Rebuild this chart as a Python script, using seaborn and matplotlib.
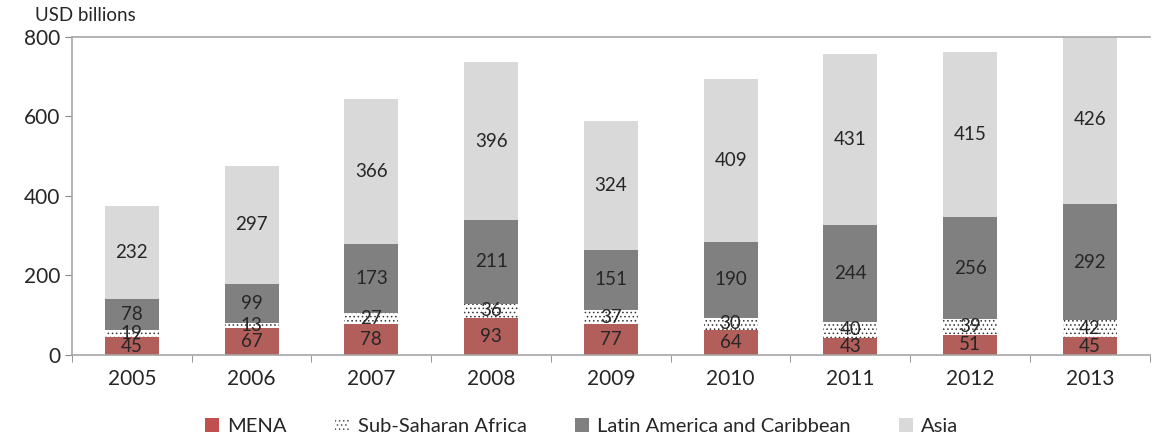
import numpy as np
import pandas as pd
import matplotlib
matplotlib.use("Agg")
import matplotlib.pyplot as plt
import seaborn as sns
from matplotlib.patches import Patch

years = ["2005", "2006", "2007", "2008", "2009", "2010", "2011", "2012", "2013"]
mena = [45, 67, 78, 93, 77, 64, 43, 51, 45]
ssa = [19, 13, 27, 36, 37, 30, 40, 39, 42]
lac = [78, 99, 173, 211, 151, 190, 244, 256, 292]
asia = [232, 297, 366, 396, 324, 409, 431, 415, 426]

series = ["MENA", "Sub-Saharan Africa", "Latin America and Caribbean", "Asia"]
colors = ["#C0504D", "white", "#808080", "#D9D9D9"]

sns.set_style("white")
plt.rcParams["font.family"] = ["Lato", "DejaVu Sans"]
plt.rcParams["hatch.linewidth"] = 0.6

df = pd.DataFrame({"year": years, "MENA": mena, "Sub-Saharan Africa": ssa,
                   "Latin America and Caribbean": lac, "Asia": asia})
cum = df[series].cumsum(axis=1)
cum["year"] = years

fig, ax = plt.subplots(figsize=(11.52, 4.34), dpi=100)
fig.subplots_adjust(left=0.0625, right=0.998, top=0.915, bottom=0.182)

# draw stacked bars from the top layer down
for name, col in reversed(list(zip(series, colors))):
    kw = dict(color=col, linewidth=0)
    if name == "Sub-Saharan Africa":
        kw.update(edgecolor="#333333", hatch="....")
    sns.barplot(data=cum, x="year", y=name, width=0.45, ax=ax, **kw)

# segment labels
vals = df[series].to_numpy()
bottoms = np.hstack([np.zeros((len(years), 1)), cum[series].to_numpy()[:, :-1]])
for i in range(len(years)):
    for j in range(len(series)):
        y = bottoms[i, j] + vals[i, j] / 2
        if y < 800:
            ax.text(i, y, str(vals[i, j]), ha="center", va="center",
                    fontsize=13.5, color="#262626")

ax.set_ylim(0, 800)
ax.set_xlim(-0.5, len(years) - 0.5)
ax.set_yticks([0, 200, 400, 600, 800])
ax.set_xlabel("")
ax.set_ylabel("")
ax.tick_params(axis="y", labelsize=15, length=5, color="#868686", direction="out",
               left=True, labelcolor="#262626")
ax.tick_params(axis="x", which="major", labelsize=15, length=0, labelcolor="#262626", pad=10)
ax.set_xticks(np.arange(-0.5, len(years)), minor=True)
ax.tick_params(axis="x", which="minor", length=5, color="#868686", direction="out", bottom=True)

for s in ["left", "bottom", "top"]:
    ax.spines[s].set_color("#A6A6A6")
    ax.spines[s].set_linewidth(1.2)
ax.spines["right"].set_visible(False)

fig.text(0.03, 0.952, "USD billions", fontsize=13.5, color="#262626")

handles = []
for name, col in zip(series, colors):
    if name == "Sub-Saharan Africa":
        handles.append(Patch(facecolor="white", edgecolor="#555555", hatch="....", linewidth=0, label=name))
    else:
        handles.append(Patch(facecolor=col, linewidth=0, label=name))
fig.legend(handles=handles, loc="lower center", ncol=4, frameon=False, fontsize=14.5,
           bbox_to_anchor=(0.505, -0.045), handlelength=0.7, handleheight=0.7,
           columnspacing=2.4, handletextpad=0.4)

fig.savefig("out.png", dpi=100)
